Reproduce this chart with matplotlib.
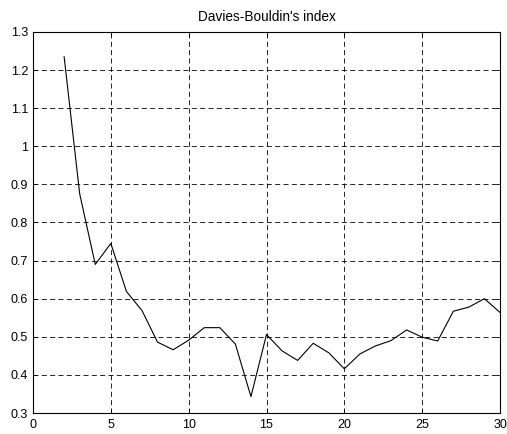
import matplotlib
matplotlib.use("Agg")
import matplotlib.pyplot as plt

clusters = [2, 3, 4, 5, 6, 7, 8, 9, 10, 11, 12, 13, 14, 15, 16, 17, 18, 19, 20,
            21, 22, 23, 24, 25, 26, 27, 28, 29, 30]
db_index = [1.235, 0.875, 0.69, 0.745, 0.619, 0.569, 0.486, 0.466, 0.491, 0.524,
            0.524, 0.481, 0.343, 0.506, 0.463, 0.438, 0.483, 0.458, 0.416,
            0.455, 0.476, 0.49, 0.518, 0.499, 0.489, 0.567, 0.578, 0.60, 0.564]
x_ticks = [0, 5, 10, 15, 20, 25, 30]
y_ticks = [0.3, 0.4, 0.5, 0.6, 0.7, 0.8, 0.9, 1.0, 1.1, 1.2, 1.3]
y_labels = ["0.3", "0.4", "0.5", "0.6", "0.7", "0.8", "0.9", "1", "1.1", "1.2", "1.3"]

plt.rcParams['font.family'] = ['Liberation Sans', 'DejaVu Sans']
fig = plt.figure(figsize=(5.07, 4.34), dpi=100)
ax = fig.add_axes([33/507, 1 - 413/434, 467/507, 381/434])
ax.plot(clusters, db_index, color='black', linewidth=0.8)
ax.set_xlim(0, 30)
ax.set_ylim(0.3, 1.3)
ax.set_xticks(x_ticks)
ax.set_yticks(y_ticks)
ax.set_yticklabels(y_labels)
ax.grid(True, color='black', linestyle=(0, (6, 4)), linewidth=0.6)
ax.tick_params(direction='in', top=True, right=True, labelsize=9, length=3, width=0.6)
ax.tick_params(axis='y', pad=3.5)
ax.tick_params(axis='x', pad=4)
for s in ax.spines.values():
    s.set_linewidth(0.8)
ax.set_title("Davies-Bouldin's index", fontsize=9.8, pad=8)
fig.savefig("out.png", dpi=100)
